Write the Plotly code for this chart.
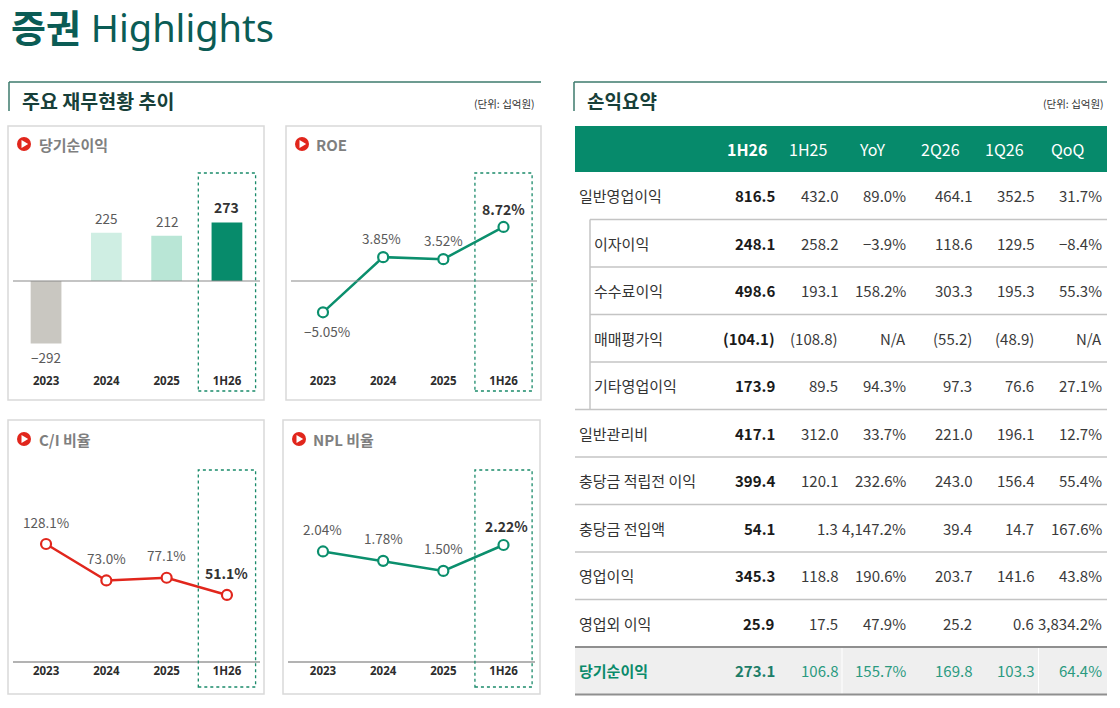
import plotly.graph_objects as go

W, H = 1120, 708

# ---- chart data ----
years = ["2023", "2024", "2025", "1H26"]
net_income = [-292, 225, 212, 273]
roe = [-5.05, 3.85, 3.52, 8.72]
ci_ratio = [128.1, 73.0, 77.1, 51.1]
npl_ratio = [2.04, 1.78, 1.50, 2.22]

# ---- table data ----
table_header = ["1H26", "1H25", "YoY", "2Q26", "1Q26", "QoQ"]
row_labels = ["일반영업이익", "이자이익", "수수료이익", "매매평가익", "기타영업이익",
              "일반관리비", "충당금 적립전 이익", "충당금 전입액", "영업이익",
              "영업외 이익", "당기순이익"]
sub_rows = [1, 2, 3, 4]
col_1h26 = ["816.5", "248.1", "498.6", "(104.1)", "173.9", "417.1", "399.4",
            "54.1", "345.3", "25.9", "273.1"]
col_1h25 = ["432.0", "258.2", "193.1", "(108.8)", "89.5", "312.0", "120.1",
            "1.3", "118.8", "17.5", "106.8"]
col_yoy = ["89.0%", "−3.9%", "158.2%", "N/A", "94.3%", "33.7%", "232.6%",
           "4,147.2%", "190.6%", "47.9%", "155.7%"]
col_2q26 = ["464.1", "118.6", "303.3", "(55.2)", "97.3", "221.0", "243.0",
            "39.4", "203.7", "25.2", "169.8"]
col_1q26 = ["352.5", "129.5", "195.3", "(48.9)", "76.6", "196.1", "156.4",
            "14.7", "141.6", "0.6", "103.3"]
col_qoq = ["31.7%", "−8.4%", "55.3%", "N/A", "27.1%", "12.7%", "55.4%",
           "167.6%", "43.8%", "3,834.2%", "64.4%"]
table_cols = [col_1h26, col_1h25, col_yoy, col_2q26, col_1q26, col_qoq]

KR = "Noto Sans CJK KR"
GREEN = "#0b8f6d"
RED = "#e1261c"
DARK_GREEN = "#0b5c55"


def fx(p):
    return p / W


def fy(p):
    return 1 - p / H


def yrange(top, bottom, zero_px, ppu):
    return [-(bottom - zero_px) / ppu, (zero_px - top) / ppu]


fig = go.Figure()
shapes = []
ann = []


def text(x, y, s, size, color, xa="left", ya="middle", bold=False, family=KR):
    ann.append(dict(x=fx(x), y=fy(y), xref="paper", yref="paper", text=f"<b>{s}</b>" if bold else s,
                    showarrow=False, xanchor=xa, yanchor=ya,
                    font=dict(family=family, size=size, color=color)))


def line(x0, y0, x1, y1, color, width=1.0, dash="solid", layer="above"):
    shapes.append(dict(type="line", xref="paper", yref="paper", x0=fx(x0), y0=fy(y0),
                       x1=fx(x1), y1=fy(y1), line=dict(color=color, width=width, dash=dash),
                       layer=layer))


def rect(x0, y0, x1, y1, fill="rgba(0,0,0,0)", color=None, width=0, layer="below"):
    shapes.append(dict(type="rect", xref="paper", yref="paper", x0=fx(x0), y0=fy(y1),
                       x1=fx(x1), y1=fy(y0), fillcolor=fill,
                       line=dict(color=color or "rgba(0,0,0,0)", width=width), layer=layer))


# ---- page title and section headers ----
text(9, 27, "<b>증권</b> Highlights", 38, DARK_GREEN, family="Noto Sans, " + KR)

line(9, 82, 541, 82, "#3d7a6c", 1.5)
line(9, 82, 9, 111, "#3d7a6c", 1.5)
text(20, 100, "주요 재무현황 추이", 19.5, "#173f39", bold=True)
text(537, 103, "(단위: 십억원)", 10.5, "#333333", xa="right")

line(574, 82, 1107, 82, "#3d7a6c", 1.5)
line(574, 82, 574, 111, "#3d7a6c", 1.5)
text(585, 100, "손익요약", 19, "#173f39", bold=True)
text(1106, 103, "(단위: 십억원)", 10.5, "#333333", xa="right")

# ---- chart panels ----
panels = [
    dict(box=(8, 126, 264, 400), title="당기순이익", icon=(24, 144), tx=37),
    dict(box=(286, 126, 541, 400), title="ROE", icon=(302, 144), tx=314),
    dict(box=(8, 420, 264, 694), title="C/I 비율", icon=(24, 439), tx=37),
    dict(box=(283, 420, 540, 694), title="NPL 비율", icon=(299, 439), tx=311),
]
for p in panels:
    x0, y0, x1, y1 = p["box"]
    rect(x0, y0, x1, y1, color="#d9d9d9", width=1.5)
    cx, cy = p["icon"]
    shapes.append(dict(type="circle", xref="paper", yref="paper", x0=fx(cx - 7), x1=fx(cx + 7),
                       y0=fy(cy + 7), y1=fy(cy - 7), fillcolor=RED, line=dict(width=0)))
    shapes.append(dict(type="path", xref="paper", yref="paper",
                       path=f"M {fx(cx - 2.5)},{fy(cy - 4)} L {fx(cx - 2.5)},{fy(cy + 4)} "
                            f"L {fx(cx + 4.2)},{fy(cy)} Z",
                       fillcolor="white", line=dict(width=0)))
    text(p["tx"], cy, p["title"], 15, "#7f7f7f", bold=True)

LEFT_DOM = [fx(15.9), fx(257.1)]
RIGHT_DOM = [fx(292.9), fx(533.6)]
TOP_DOM = [fy(372), fy(160)]
BOT_DOM = [fy(662), fy(460)]

bar_colors = ["#c9c7c1", "#cfeee3", "#b9e6d6", "#078b6b"]
fig.add_trace(go.Bar(x=years, y=net_income, marker=dict(color=bar_colors, line=dict(width=0)),
                     width=0.51, xaxis="x", yaxis="y", hoverinfo="skip"))
fig.add_trace(go.Scatter(x=years, y=roe, mode="lines+markers", xaxis="x2", yaxis="y2",
                         line=dict(color=GREEN, width=2.5),
                         marker=dict(size=10, color="white", line=dict(color=GREEN, width=2.2)),
                         hoverinfo="skip"))
fig.add_trace(go.Scatter(x=years, y=ci_ratio, mode="lines+markers", xaxis="x3", yaxis="y3",
                         line=dict(color=RED, width=2.5),
                         marker=dict(size=10, color="white", line=dict(color=RED, width=2.2)),
                         hoverinfo="skip"))
fig.add_trace(go.Scatter(x=years, y=npl_ratio, mode="lines+markers", xaxis="x4", yaxis="y4",
                         line=dict(color=GREEN, width=2.5),
                         marker=dict(size=10, color="white", line=dict(color=GREEN, width=2.2)),
                         hoverinfo="skip"))

axis_cfg = [
    ("", LEFT_DOM, TOP_DOM, yrange(160, 372, 281, 0.214)),
    ("2", RIGHT_DOM, TOP_DOM, yrange(160, 372, 281, 6.2)),
    ("3", LEFT_DOM, BOT_DOM, yrange(460, 662, 628.8, 0.662)),
    ("4", RIGHT_DOM, BOT_DOM, yrange(460, 662, 624.9, 36.0)),
]
layout_axes = {}
for n, xd, yd, yr in axis_cfg:
    layout_axes["xaxis" + n] = dict(domain=xd, range=[-0.5, 3.5], anchor="y" + n, showgrid=False,
                                    zeroline=False, showline=False, ticks="", fixedrange=True,
                                    type="category",
                                    tickvals=years, ticktext=[f"<b>{y}</b>" for y in years],
                                    tickfont=dict(family="Noto Sans, " + KR, size=11.5, color="#2d2d2d"))
    layout_axes["yaxis" + n] = dict(domain=yd, range=yr, anchor="x" + n, visible=False,
                                    fixedrange=True)

# zero / base lines and highlight boxes
line(13, 281, 260, 281, "#8a8a8a", 1.2)
line(291, 281, 537, 281, "#8a8a8a", 1.2)
line(13, 662, 260, 662, "#9a9a9a", 1.5)
line(288, 662, 535, 662, "#9a9a9a", 1.5)
for n, top, bot in [("", 173, 391), ("2", 173, 391), ("3", 470, 687), ("4", 470, 687)]:
    shapes.append(dict(type="rect", xref="x" + n, yref="paper", x0=3 - 0.475, x1=3 + 0.475,
                       y0=fy(bot), y1=fy(top), line=dict(color="#1a8a6a", width=1.3, dash="dot"),
                       fillcolor="rgba(0,0,0,0)", layer="above"))


def value_labels(n, vals, fmt, up_shift, down_shift, last_shift, xshifts=None):
    # category axes: annotations are placed by category index
    for i, v in enumerate(vals):
        s = fmt(v).replace("-", "−")
        last = i == len(vals) - 1
        neg = v < 0
        ann.append(dict(x=i, y=v, xref="x" + n, yref="y" + n, showarrow=False,
                        text=f"<b>{s}</b>" if last else s,
                        xanchor="center", yanchor="top" if neg else "bottom",
                        yshift=down_shift if neg else (last_shift if last else up_shift),
                        xshift=(xshifts or [0, 0, 0, 0])[i],
                        font=dict(family=KR, size=14 if last else 13.5,
                                  color="#333333" if last else "#5a5a5a")))


value_labels("", net_income, lambda v: f"{v:,.0f}", 2.5, -2, 4)
value_labels("2", roe, lambda v: f"{v:.2f}%", 7.5, -7, 6, [4, -2, 0, 0])
value_labels("3", ci_ratio, lambda v: f"{v:.1f}%", 10.5, -10, 10)
value_labels("4", npl_ratio, lambda v: f"{v:.2f}%", 10.5, -10, 7, [0, 0, 0, 3])

# ---- income summary table ----
TBL_L, TBL_R = 575, 1107
TOP, RH = 172, 47.5
col_right = [777, 840, 908, 973.5, 1036, 1104]
head_center = [747, 808, 872, 940, 1004, 1068]
n_rows = len(row_labels)

rect(TBL_L, 126, TBL_R, TOP, fill="#068a6b")
for j, h in enumerate(table_header):
    text(head_center[j], 149, h, 16, "white", xa="center", bold=(j == 0))

rect(TBL_L, TOP + RH * (n_rows - 1), TBL_R, TOP + RH * n_rows, fill="#efefef")
line(842, TOP + RH * (n_rows - 1), 842, TOP + RH * n_rows, "#ffffff", 1)
line(1038.5, TOP + RH * (n_rows - 1), 1038.5, TOP + RH * n_rows, "#ffffff", 1)

for k in range(1, n_rows + 1):
    yk = TOP + RH * k
    x0 = 590 if k in sub_rows else TBL_L
    dark = k >= n_rows - 1
    line(x0, yk, TBL_R, yk, "#8f8f8f" if dark else "#c4c4c4", 2 if dark else 1.5)
line(590, TOP + RH, 590, TOP + RH * 5, "#c4c4c4", 1.5)

for i, lab in enumerate(row_labels):
    yc = TOP + RH * (i + 0.5)
    last = i == n_rows - 1
    lx = 592 if i in sub_rows else 577
    text(lx, yc, lab, 15, "#0a8a6a" if last else "#333333", bold=last)
    for j, col in enumerate(table_cols):
        if last:
            color = "#1c7d68" if j == 0 else "#2a9a80"
        else:
            color = "#1a1a1a" if j == 0 else "#3a3a3a"
        text(col_right[j], yc, col[i], 15, color, xa="right", bold=(j == 0))

fig.update_layout(
    width=W, height=H, margin=dict(l=0, r=0, t=0, b=0),
    paper_bgcolor="white", plot_bgcolor="rgba(0,0,0,0)",
    showlegend=False, bargap=0.5,
    shapes=shapes, annotations=ann,
    **layout_axes,
)

fig.write_html("out.html", config={"displayModeBar": False},
               post_script="document.body.style.margin='0';")
